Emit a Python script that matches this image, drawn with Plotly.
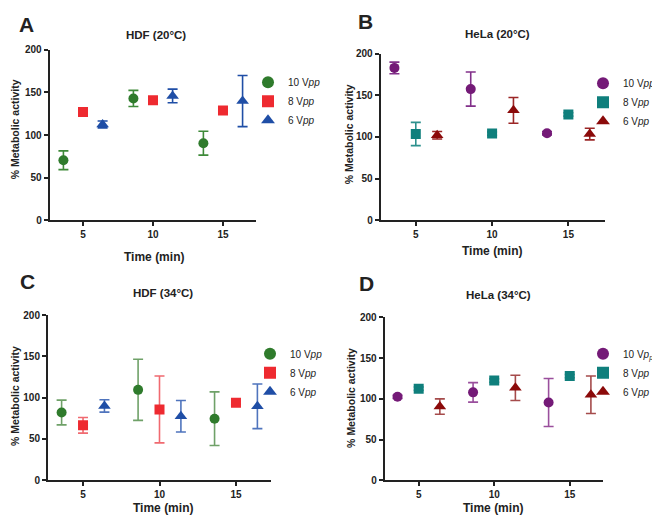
import plotly.graph_objects as go
from plotly.subplots import make_subplots

W, H = 660, 517

# positions on the time axis (min) for each voltage group
x_10 = [3.6, 8.6, 13.6]
x_8 = [5, 10, 15]
x_6 = [6.4, 11.4, 16.4]

series_names = ['10 V<i>pp</i>', '8 V<i>pp</i>', '6 V<i>pp</i>']
series_names_d = ['10 V<i>p<sub>p</sub></i>', '8 V<i>pp</i>', '6 V<i>pp</i>']

# A: HDF (20°C)
hdf20_10 = [70.5, 143, 90.5]
hdf20_10_err = [11, 9.5, 14]
hdf20_8 = [127, 141, 129]
hdf20_8_err = [3, 3, 2]
hdf20_6 = [112.5, 146, 140]
hdf20_6_err = [4, 8, 30]

# B: HeLa (20°C)
hela20_10 = [183, 157.5, 104.5]
hela20_10_err = [7, 20.5, 2]
hela20_8 = [103.5, 104, 127]
hela20_8_err = [14, 2, 2]
hela20_6 = [102, 132, 103.5]
hela20_6_err = [4.5, 15.5, 7]

# C: HDF (34°C)
hdf34_10 = [82, 109.5, 74.5]
hdf34_10_err = [15, 37, 32.5]
hdf34_8 = [66.5, 85.7, 94]
hdf34_8_err = [9.5, 40.5, 2]
hdf34_6 = [90, 77.5, 89.5]
hdf34_6_err = [7.5, 19, 27]

# D: HeLa (34°C)
hela34_10 = [102.5, 108, 95.5]
hela34_10_err = [2, 12, 29.5]
hela34_8 = [112.5, 122.5, 128]
hela34_8_err = [2, 2, 2]
hela34_6 = [90.5, 113.5, 105]
hela34_6_err = [9.5, 15.5, 23]

x_ticks = [5, 10, 15]
y_ticks = [0, 50, 100, 150, 200]

HDF_COLORS = ['#2f7b2c', '#ee2a30', '#1f4ea6']
HDF_ERR = [['#3e8a39', '#ee2a30', '#1f4ea6'], ['#6fa168', '#f06a70', '#4f74bd']]
HELA_COLORS = ['#741a77', '#0f7f7c', '#8b0a0a']
HELA_ERR = [['#82308a', '#2d918e', '#9b2626'], ['#9a4f9d', '#3a9896', '#a54b4b']]
SYMBOLS = ['circle', 'square', 'triangle-up']
SIZES = [10, 10, 11]

FONT = 'Liberation Sans, Arial, sans-serif'

fig = make_subplots(rows=2, cols=2)


def px_x(p):
    return p / W


def px_y(p):
    return 1 - p / H


panels = [
    # row, col, data, errors, colors, err colors, legend, names
    (1, 1, [hdf20_10, hdf20_8, hdf20_6], [hdf20_10_err, hdf20_8_err, hdf20_6_err],
     HDF_COLORS, HDF_ERR[0], 'legend', series_names),
    (1, 2, [hela20_10, hela20_8, hela20_6], [hela20_10_err, hela20_8_err, hela20_6_err],
     HELA_COLORS, HELA_ERR[0], 'legend2', series_names),
    (2, 1, [hdf34_10, hdf34_8, hdf34_6], [hdf34_10_err, hdf34_8_err, hdf34_6_err],
     HDF_COLORS, HDF_ERR[1], 'legend3', series_names),
    (2, 2, [hela34_10, hela34_8, hela34_6], [hela34_10_err, hela34_8_err, hela34_6_err],
     HELA_COLORS, HELA_ERR[1], 'legend4', series_names_d),
]

xs = [x_10, x_8, x_6]
for row, col, ys, errs, colors, ecolors, leg, names in panels:
    # reference line at 100 %
    fig.add_hline(y=100, line=dict(color='#222', width=1.2, dash='dot'), row=row, col=col)
    for i in range(3):
        fig.add_trace(
            go.Scatter(
                x=xs[i], y=ys[i],
                mode='markers',
                name=names[i],
                legend=leg,
                marker=dict(symbol=SYMBOLS[i], size=SIZES[i], color=colors[i]),
                error_y=dict(type='data', array=errs[i], color=ecolors[i],
                             thickness=1.6, width=5),
            ),
            row=row, col=col
        )

# panel geometry (pixels)
x_domains = [(41.7, 248.3), (372.7, 597), (40, 263), (376.7, 595)]
y_domains = [(36.7, 211.3), (40.7, 211), (308.3, 477.3), (310.7, 477.3)]
x_ranges = [(2.62, 17.38), (2.7, 17.4), (2.71, 17.29), (2.75, 17.2)]

for k in range(4):
    sfx = '' if k == 0 else str(k + 1)
    fig.layout['xaxis' + sfx].update(
        domain=[px_x(x_domains[k][0]), px_x(x_domains[k][1])],
        range=list(x_ranges[k]),
        tickvals=x_ticks,
        showgrid=False, zeroline=False,
        showline=True, linecolor='#222', linewidth=2,
        ticks='outside', ticklen=4, tickwidth=1.5, tickcolor='#222',
        tickfont=dict(family=FONT, size=10, color='#222', weight='bold'),
    )
    fig.layout['yaxis' + sfx].update(
        domain=[px_y(y_domains[k][1]), px_y(y_domains[k][0])],
        range=[0, 200],
        tickvals=y_ticks,
        showgrid=False, zeroline=False,
        showline=True, linecolor='#222', linewidth=2,
        ticks='outside', ticklen=4, tickwidth=1.5, tickcolor='#222',
        tickfont=dict(family=FONT, size=10, color='#222', weight='bold'),
    )

annotations = []


def add_text(text, x, y, size, bold=True, angle=0):
    annotations.append(dict(
        text=text, x=px_x(x), y=px_y(y), xref='paper', yref='paper',
        showarrow=False, textangle=angle, xanchor='center', yanchor='middle',
        font=dict(family=FONT, size=size, color='#222', weight='bold' if bold else 'normal'),
    ))


# panel letters
for letter, x, y in [('A', 18, 11), ('B', 357, 8), ('C', 19, 274), ('D', 358, 276)]:
    add_text(letter, x, y, 21)

# panel titles
for title, x, y in [('HDF (20°C)', 148, 22), ('HeLa (20°C)', 489, 20),
                    ('HDF (34°C)', 155, 286), ('HeLa (34°C)', 490, 288)]:
    add_text(title, x, y, 11.5)

# axis titles
for x, y in [(146, 249), (484, 243), (155, 506), (485, 506)]:
    add_text('Time (min)', x, y, 12)
for x, y in [(7, 118), (341, 123), (7, 391), (343, 393)]:
    add_text('% Metabolic activity', x, y, 10.5, angle=-90)

legend_style = dict(
    bgcolor='rgba(0,0,0,0)', borderwidth=0,
    xanchor='left', yanchor='top', tracegroupgap=0, itemsizing='constant',
    font=dict(family=FONT, size=10, color='#222'),
)
leg_pos = [(240, 55), (575, 56), (242, 333), (575, 333)]
layout_legends = {}
for k, name in enumerate(['legend', 'legend2', 'legend3', 'legend4']):
    layout_legends[name] = dict(legend_style, x=px_x(leg_pos[k][0]), y=px_y(leg_pos[k][1]))

fig.update_layout(
    width=W, height=H,
    margin=dict(l=0, r=0, t=0, b=0),
    plot_bgcolor='white', paper_bgcolor='white',
    annotations=annotations,
    showlegend=True,
    **layout_legends,
)

fig.write_html("out.html")
